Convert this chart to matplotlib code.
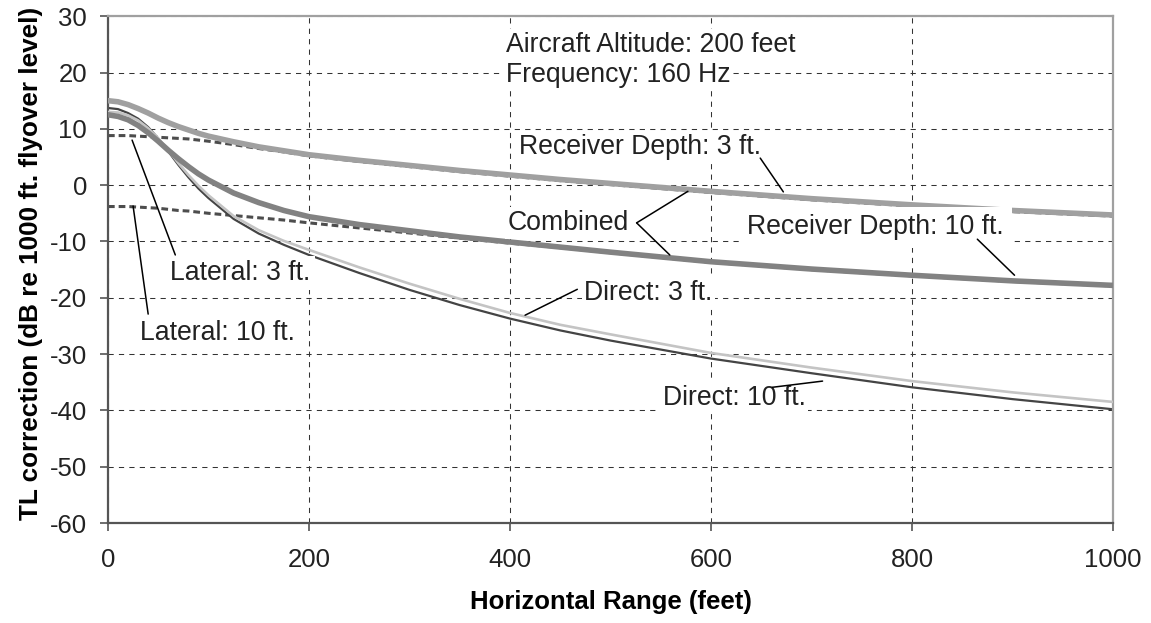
from matplotlib import pyplot as plt
import numpy as np

plt.rcParams['font.family'] = ['Liberation Sans', 'DejaVu Sans']
plt.rcParams['axes.unicode_minus'] = False

# horizontal range (feet)
rng = [0, 10, 20, 30, 40, 50, 60, 70, 80, 90, 100, 125, 150, 175, 200,
       250, 300, 350, 400, 450, 500, 600, 700, 800, 900, 1000]

combined_3 = [15.0, 14.8, 14.3, 13.6, 12.8, 11.9, 11.1, 10.4, 9.8, 9.2, 8.7,
              7.7, 6.8, 6.1, 5.4, 4.4, 3.5, 2.6, 1.8, 1.0, 0.3, -1.1, -2.4,
              -3.5, -4.5, -5.3]
lateral_3 = [8.8, 8.8, 8.8, 8.7, 8.6, 8.5, 8.4, 8.3, 8.2, 8.0, 7.8, 7.2, 6.5,
             5.9, 5.2, 4.2, 3.3, 2.4, 1.6, 0.8, 0.1, -1.3, -2.6, -3.7, -4.7,
             -5.5]
combined_10 = [12.5, 12.2, 11.6, 10.6, 9.3, 7.8, 6.2, 4.7, 3.3, 2.0, 0.9,
               -1.4, -3.1, -4.5, -5.6, -7.0, -8.1, -9.2, -10.1, -11.0, -11.9,
               -13.6, -14.9, -16.0, -17.0, -17.8]
lateral_10 = [-3.8, -3.8, -3.8, -3.9, -4.0, -4.1, -4.3, -4.5, -4.6, -4.8,
              -5.0, -5.4, -5.8, -6.2, -6.7, -7.6, -8.5, -9.4, -10.3, -11.1,
              -12.0, -13.7, -15.0, -16.1, -17.1, -17.9]
direct_10 = [13.7, 13.5, 12.8, 11.8, 10.3, 8.3, 6.0, 3.6, 1.4, -0.6, -2.3,
             -6.0, -8.6, -10.6, -12.4, -15.6, -18.6, -21.3, -23.7, -25.8,
             -27.6, -30.8, -33.4, -35.9, -38.0, -39.8]
direct_3 = [13.0, 12.9, 12.4, 11.5, 10.1, 8.3, 6.2, 3.9, 1.8, -0.1, -1.8,
            -5.5, -8.0, -9.9, -11.5, -14.6, -17.5, -20.2, -22.7, -24.8,
            -26.5, -29.8, -32.4, -34.8, -36.8, -38.5]

fig = plt.figure(figsize=(11.51, 6.23), dpi=100)
ax = fig.add_axes([0.0938, 0.1605, 0.8732, 0.8135])

ax.plot(rng, lateral_3, color='#4d4d4d', lw=2.2, ls=(0, (2.2, 1.3)), zorder=2)
ax.plot(rng, lateral_10, color='#4d4d4d', lw=2.2, ls=(0, (2.2, 1.3)), zorder=2)
ax.plot(rng, direct_10, color='#444444', lw=1.6, zorder=2.5)
ax.plot(rng, direct_3, color='#c4c4c4', lw=1.9, zorder=2.6)
ax.plot(rng, combined_3, color='#a0a0a0', lw=4.0, zorder=3)
ax.plot(rng, combined_10, color='#828282', lw=4.0, zorder=3)

ax.set_xlim(0, 1000)
ax.set_ylim(-60, 30)
ax.set_xticks(np.arange(0, 1001, 200))
ax.set_yticks(np.arange(-60, 31, 10))
ax.grid(True, color='#333333', lw=0.75, ls=(0, (5, 5)))
ax.tick_params(labelsize=18.5, length=6, width=1.2, color='#555555',
               labelcolor='#222222')
ax.tick_params(axis='x', pad=12)
ax.tick_params(axis='y', pad=9)

for s in ['left', 'bottom']:
    ax.spines[s].set_color('#555555')
    ax.spines[s].set_linewidth(1.6)
for s in ['top', 'right']:
    ax.spines[s].set_color('#a0a0a0')
    ax.spines[s].set_linewidth(1.6)

ax.set_xlabel('Horizontal Range (feet)', fontsize=18.5, fontweight='bold',
              labelpad=13)
ax.set_ylabel('TL correction (dB re 1000 ft. flyover level)', fontsize=18.8,
              fontweight='bold', labelpad=5)
ax.yaxis.label.set_y(0.512)

kw = dict(fontsize=19.2, color='#222222', va='center', ha='left', zorder=5)
def label(x, y, s, pad=2):
    ax.text(x, y, s, bbox=dict(facecolor='white', edgecolor='none', pad=pad),
            **kw)

label(396, 24.9, 'Aircraft Altitude: 200 feet')
label(396, 19.5, 'Frequency: 160 Hz')
label(409, 6.7, 'Receiver Depth: 3 ft.')
label(398, -6.7, 'Combined')
label(636, -7.5, 'Receiver Depth: 10 ft.', pad=5.5)
label(62, -15.6, 'Lateral: 3 ft.', pad=3)
label(32, -26.3, 'Lateral: 10 ft.', pad=4)
label(474, -19.2, 'Direct: 3 ft.')
label(552, -37.8, 'Direct: 10 ft.', pad=2)

lead = dict(arrowstyle='-', color='black', lw=1.1, shrinkA=0, shrinkB=0)
leaders = [((649, 4.8), (672, -1.2)),
           ((526, -6.7), (577, -1.1)),
           ((526, -6.7), (559, -12.4)),
           ((865, -9.6), (902, -16.0)),
           ((67, -12.4), (24, 8.0)),
           ((40, -22.9), (25, -3.7)),
           ((467, -18.5), (415, -23.1)),
           ((661, -35.9), (711, -34.8))]
for start, end in leaders:
    ax.annotate('', xy=end, xytext=start, arrowprops=lead, zorder=6)

plt.savefig('out.png', dpi=100)
